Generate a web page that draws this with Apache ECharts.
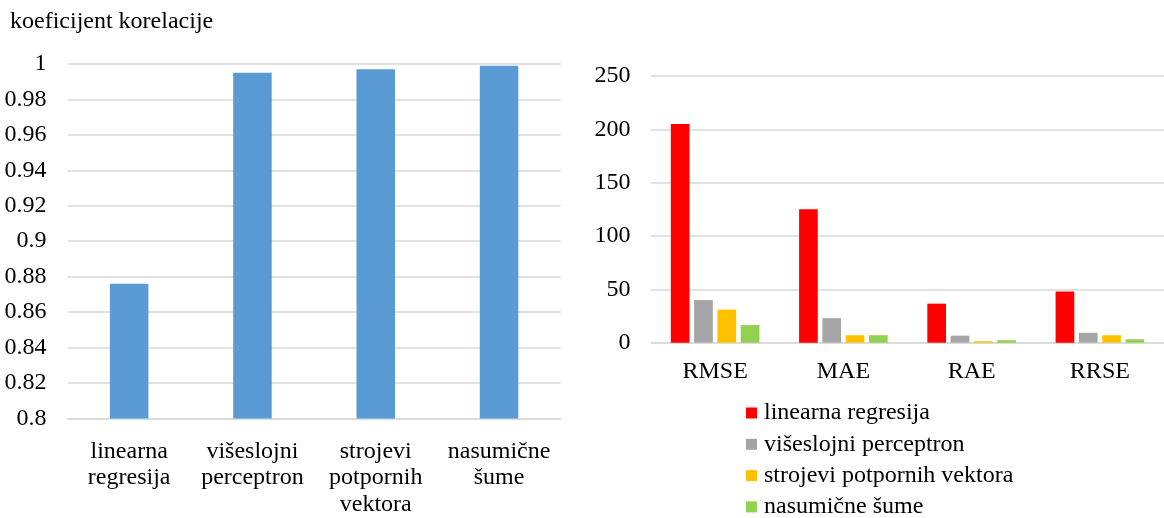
<!DOCTYPE html>
<html>
<head>
<meta charset="utf-8">
<script src="https://cdn.jsdelivr.net/npm/echarts@6/dist/echarts.min.js"></script>
<style>
html,body{margin:0;padding:0;background:#fff;}
#c{width:1164px;height:518px;}
</style>
</head>
<body>
<div id="c"></div>
<script>
// ---- data ----
const corrTitle = 'koeficijent korelacije';
const corrCategories = ['linearna\nregresija', 'višeslojni\nperceptron', 'strojevi\npotpornih\nvektora', 'nasumične\nšume'];
const corrValues = [0.876, 0.995, 0.997, 0.999];

const errCategories = ['RMSE', 'MAE', 'RAE', 'RRSE'];
const seriesNames = ['linearna regresija', 'višeslojni perceptron', 'strojevi potpornih vektora', 'nasumične šume'];
const linRegValues = [205, 125, 36.6, 48];
const mlpValues = [40, 23, 6.6, 9.3];
const svmValues = [31, 7, 1.4, 7];
const rfValues = [16.5, 7, 2.3, 3.2];

// ---- styles ----
const FONT = '"Liberation Serif", "Times New Roman", serif';
const GRID_COLOR = '#D9D9D9';
const seriesColors = ['#FF0000', '#A5A5A5', '#FFC000', '#92D050'];
const errValues = [linRegValues, mlpValues, svmValues, rfValues];

const chart = echarts.init(document.getElementById('c'), null, {renderer: 'canvas'});

const option = {
  animation: false,
  backgroundColor: '#fff',
  textStyle: {fontFamily: FONT, color: '#000'},
  title: {
    text: corrTitle,
    left: 5, top: 5,
    textStyle: {fontFamily: FONT, fontSize: 24, fontWeight: 'normal', color: '#000'}
  },
  legend: {
    orient: 'vertical',
    left: 746, top: 401, height: 140, padding: 0,
    itemWidth: 11, itemHeight: 11, itemGap: 7.3,
    icon: 'rect',
    data: seriesNames,
    textStyle: {fontFamily: FONT, fontSize: 24, color: '#000', lineHeight: 24, padding: [0, 0, 0, 2]}
  },
  grid: [
    {left: 67.5, right: 603.3, top: 64, bottom: 97, containLabel: false},
    {left: 651, right: -3.3, top: 76, bottom: 175.3, containLabel: false}
  ],
  xAxis: [
    {
      type: 'category', gridIndex: 0, data: corrCategories,
      axisLine: {lineStyle: {color: GRID_COLOR, width: 1.5}},
      axisTick: {show: false},
      axisLabel: {fontFamily: FONT, fontSize: 24, color: '#000', lineHeight: 26.7, margin: 19.5, interval: 0}
    },
    {
      type: 'category', gridIndex: 1, data: errCategories,
      axisLine: {lineStyle: {color: GRID_COLOR, width: 1.5}},
      axisTick: {show: false},
      axisLabel: {fontFamily: FONT, fontSize: 24, color: '#000', lineHeight: 26.7, margin: 15.7, interval: 0}
    }
  ],
  yAxis: [
    {
      type: 'value', gridIndex: 0, min: 0.8, max: 1, interval: 0.02,
      axisLine: {show: false}, axisTick: {show: false},
      splitLine: {lineStyle: {color: GRID_COLOR, width: 1.5}},
      axisLabel: {fontFamily: FONT, fontSize: 24, color: '#000', margin: 21,
        formatter: v => String(Number(v.toFixed(2)))}
    },
    {
      type: 'value', gridIndex: 1, min: 0, max: 250, interval: 50,
      axisLine: {show: false}, axisTick: {show: false},
      splitLine: {lineStyle: {color: GRID_COLOR, width: 1.5}},
      axisLabel: {fontFamily: FONT, fontSize: 24, color: '#000', margin: 20.5}
    }
  ],
  series: [
    {
      type: 'bar', name: 'corr', xAxisIndex: 0, yAxisIndex: 0,
      data: corrValues, barWidth: 38.5,
      itemStyle: {color: '#5B9BD5'}
    }
  ].concat(seriesNames.map((name, i) => ({
    type: 'bar', name: name, xAxisIndex: 1, yAxisIndex: 1,
    data: errValues[i], barWidth: 18.7, barGap: '24.6%',
    itemStyle: {color: seriesColors[i]}
  })))
};
chart.setOption(option);
</script>
</body>
</html>
